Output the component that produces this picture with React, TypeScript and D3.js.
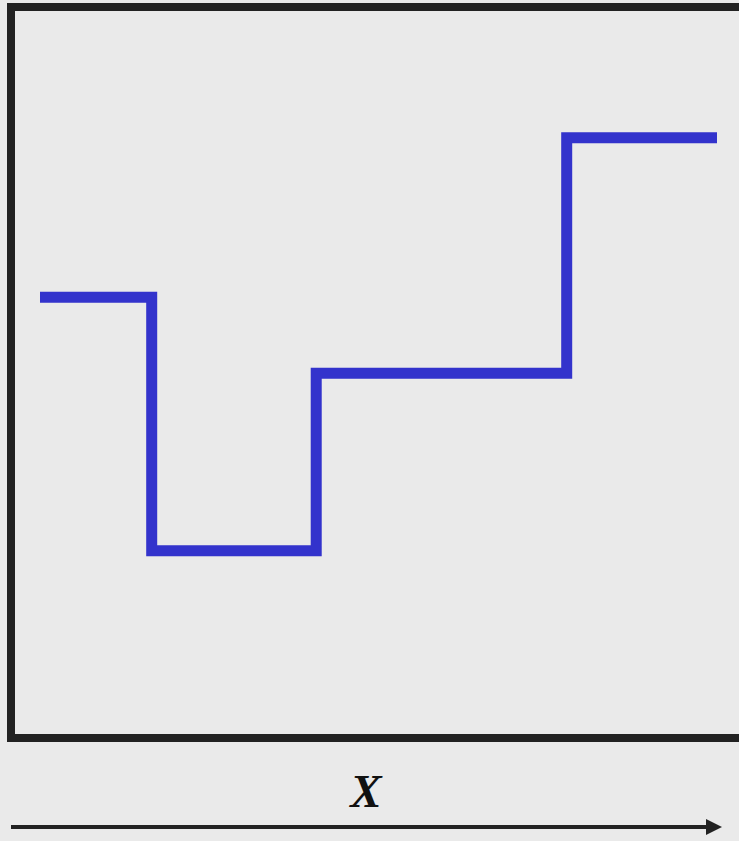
import React from "react";
import * as d3 from "d3";

const xSteps = [0, 1.65, 4.08, 7.78, 10];
const yLevels = [6.03, 2.56, 4.99, 8.21];
const xLabel = "X";

const W = 739;
const H = 841;

export default function App() {
  const x = d3.scaleLinear().domain([0, 10]).range([40, 717]);
  const y = d3.scaleLinear().domain([0, 10]).range([738, 7]);
  const pts: [number, number][] = xSteps.map((xv, i) => [xv, yLevels[Math.min(i, yLevels.length - 1)]]);
  const line = d3
    .line<[number, number]>()
    .x((d) => x(d[0]))
    .y((d) => y(d[1]))
    .curve(d3.curveStepAfter);
  return (
    <svg
      width={W}
      height={H}
      style={{ position: "absolute", left: 0, top: 0, display: "block" }}
    >
      <defs>
        <marker id="arr" viewBox="0 0 16 16" refX="0" refY="8" markerWidth="16" markerHeight="16" markerUnits="userSpaceOnUse" orient="auto">
          <path d="M0,0 L16,8 L0,16 Z" fill="#222" />
        </marker>
      </defs>
      <rect x={0} y={0} width={W} height={H} fill="#eaeaea" />
      <rect x={11} y={7} width={740} height={731} fill="#eaeaea" stroke="#222" strokeWidth={8} />
      <path d={line(pts) || ""} fill="none" stroke="#3333cc" strokeWidth={11} strokeLinejoin="miter" strokeLinecap="butt" />
      <text
        x={366}
        y={807}
        textAnchor="middle"
        fontFamily="Liberation Serif, serif"
        fontStyle="italic"
        fontWeight="bold"
        fontSize={47}
        fill="#111"
      >
        {xLabel}
      </text>
      <line x1={11} y1={827} x2={706} y2={827} stroke="#222" strokeWidth={4} markerEnd="url(#arr)" />
    </svg>
  );
}
